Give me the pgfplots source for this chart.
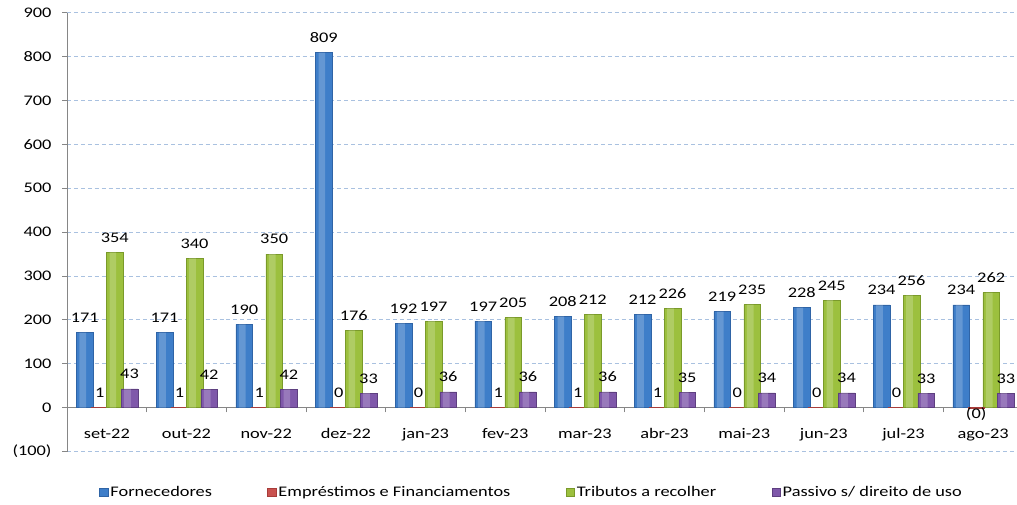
\documentclass[border=0pt]{standalone}
\usepackage{pgfplots}
\pgfplotsset{compat=1.18}
\usepackage{fontspec}
\setmainfont{Carlito}[FakeStretch=1.25]
\definecolor{gridc}{HTML}{A9C1E0}
\definecolor{axc}{HTML}{868686}
\definecolor{bluedk}{HTML}{2F64A6}
\definecolor{bluem}{HTML}{3E7EC9}
\definecolor{reddk}{HTML}{A83C39}
\definecolor{redm}{HTML}{C9524F}
\definecolor{greendk}{HTML}{7A9A2A}
\definecolor{greenm}{HTML}{9CC03E}
\definecolor{purpledk}{HTML}{5E3F80}
\definecolor{purplem}{HTML}{7F58AA}
\begin{document}
\fontsize{11}{13}\selectfont
\begin{tikzpicture}
\path[use as bounding box] (0,0) rectangle (762.75pt,378pt);
\begin{axis}[
  at={(50.25pt,39.3pt)}, anchor=south west,
  scale only axis, width=717pt, height=329.25pt,
  xmin=-0.5, xmax=11.5, ymin=-100, ymax=900,
  axis x line*=middle, axis y line*=left,
  axis line style={axc, line width=0.6pt},
  ybar, bar width=12.6pt,
  clip=false,
  ytick={-100,0,100,200,300,400,500,600,700,800,900},
  yticklabels={(100),0,100,200,300,400,500,600,700,800,900},
  ymajorgrids, grid style={gridc, dashed, dash pattern=on 3pt off 2.2pt, line width=0.6pt},
  ytick style={axc, line width=0.6pt}, ytick align=outside, major tick length=3.75pt,
  xtick={0,...,11},
  xticklabels={set-22,out-22,nov-22,dez-22,jan-23,fev-23,mar-23,abr-23,mai-23,jun-23,jul-23,ago-23},
  xtick style={draw=none},
  minor xtick={0.5,1.5,...,10.5},
  minor x tick style={axc, line width=0.6pt, draw=axc},
  xtick align=outside, minor tick length=3.5pt,
  x tick label style={font=\fontsize{11}{13}\selectfont, yshift=-8pt},
  y tick label style={font=\fontsize{11}{13}\selectfont, xshift=-4pt},
  /pgf/number format/assume math mode=true,
  every node near coord/.append style={font=\fontsize{11}{13}\selectfont, black, yshift=3.6pt},
  legend columns=4,
  legend style={at={(0.486,-0.093)}, anchor=center, draw=none, fill=none,
    font=\fontsize{11}{13}\selectfont,
    /tikz/every even column/.append style={column sep=40pt},
    nodes={inner xsep=1.5pt}},
  legend image code/.code={\path[#1] (0pt,-3pt) rectangle (6.4pt,3pt);},
]
\addplot[bar shift=-16.5pt, draw=bluedk, line width=0.4pt, fill=bluem, nodes near coords]
 coordinates {(0,171) (1,171) (2,190) (3,809) (4,192) (5,197) (6,208) (7,212) (8,219) (9,228) (10,234) (11,234)};
\addplot[bar shift=-5.25pt, draw=reddk, line width=0.4pt, fill=redm,
  point meta=explicit symbolic, nodes near coords={\pgfplotspointmeta}]
 coordinates {(0,1) [1] (1,1) [1] (2,1) [1] (3,0.3) [0] (4,0.3) [0] (5,1) [1] (6,1) [1] (7,1) [1] (8,0.3) [0] (9,0.3) [0] (10,0.3) [0]};
\addplot[bar shift=6pt, draw=greendk, line width=0.4pt, fill=greenm, nodes near coords]
 coordinates {(0,354) (1,340) (2,350) (3,176) (4,197) (5,205) (6,212) (7,226) (8,235) (9,245) (10,256) (11,262)};
\addplot[bar shift=17pt, draw=purpledk, line width=0.4pt, fill=purplem, nodes near coords]
 coordinates {(0,43) (1,42) (2,42) (3,33) (4,36) (5,36) (6,36) (7,35) (8,34) (9,34) (10,33) (11,33)};
\addplot[forget plot, bar shift=-5.25pt, draw=reddk, line width=0.4pt, fill=redm,
  point meta=explicit symbolic, nodes near coords={\pgfplotspointmeta},
  every node near coord/.append style={anchor=north, yshift=0.4pt}]
 coordinates {(11,-0.3) [(0)]};
% highlights
\addplot[forget plot, bar shift=-18pt, bar width=5pt, draw=none, fill=white, fill opacity=0.2]
 coordinates {(0,171) (1,171) (2,190) (3,809) (4,192) (5,197) (6,208) (7,212) (8,219) (9,228) (10,234) (11,234)};
\addplot[forget plot, bar shift=4.5pt, bar width=5pt, draw=none, fill=white, fill opacity=0.2]
 coordinates {(0,354) (1,340) (2,350) (3,176) (4,197) (5,205) (6,212) (7,226) (8,235) (9,245) (10,256) (11,262)};
\addplot[forget plot, bar shift=15.5pt, bar width=5pt, draw=none, fill=white, fill opacity=0.2]
 coordinates {(0,43) (1,42) (2,42) (3,33) (4,36) (5,36) (6,36) (7,35) (8,34) (9,34) (10,33) (11,33)};
\legend{Fornecedores, Empréstimos e Financiamentos, Tributos a recolher, Passivo s/ direito de uso}
\end{axis}
\end{tikzpicture}
\end{document}
